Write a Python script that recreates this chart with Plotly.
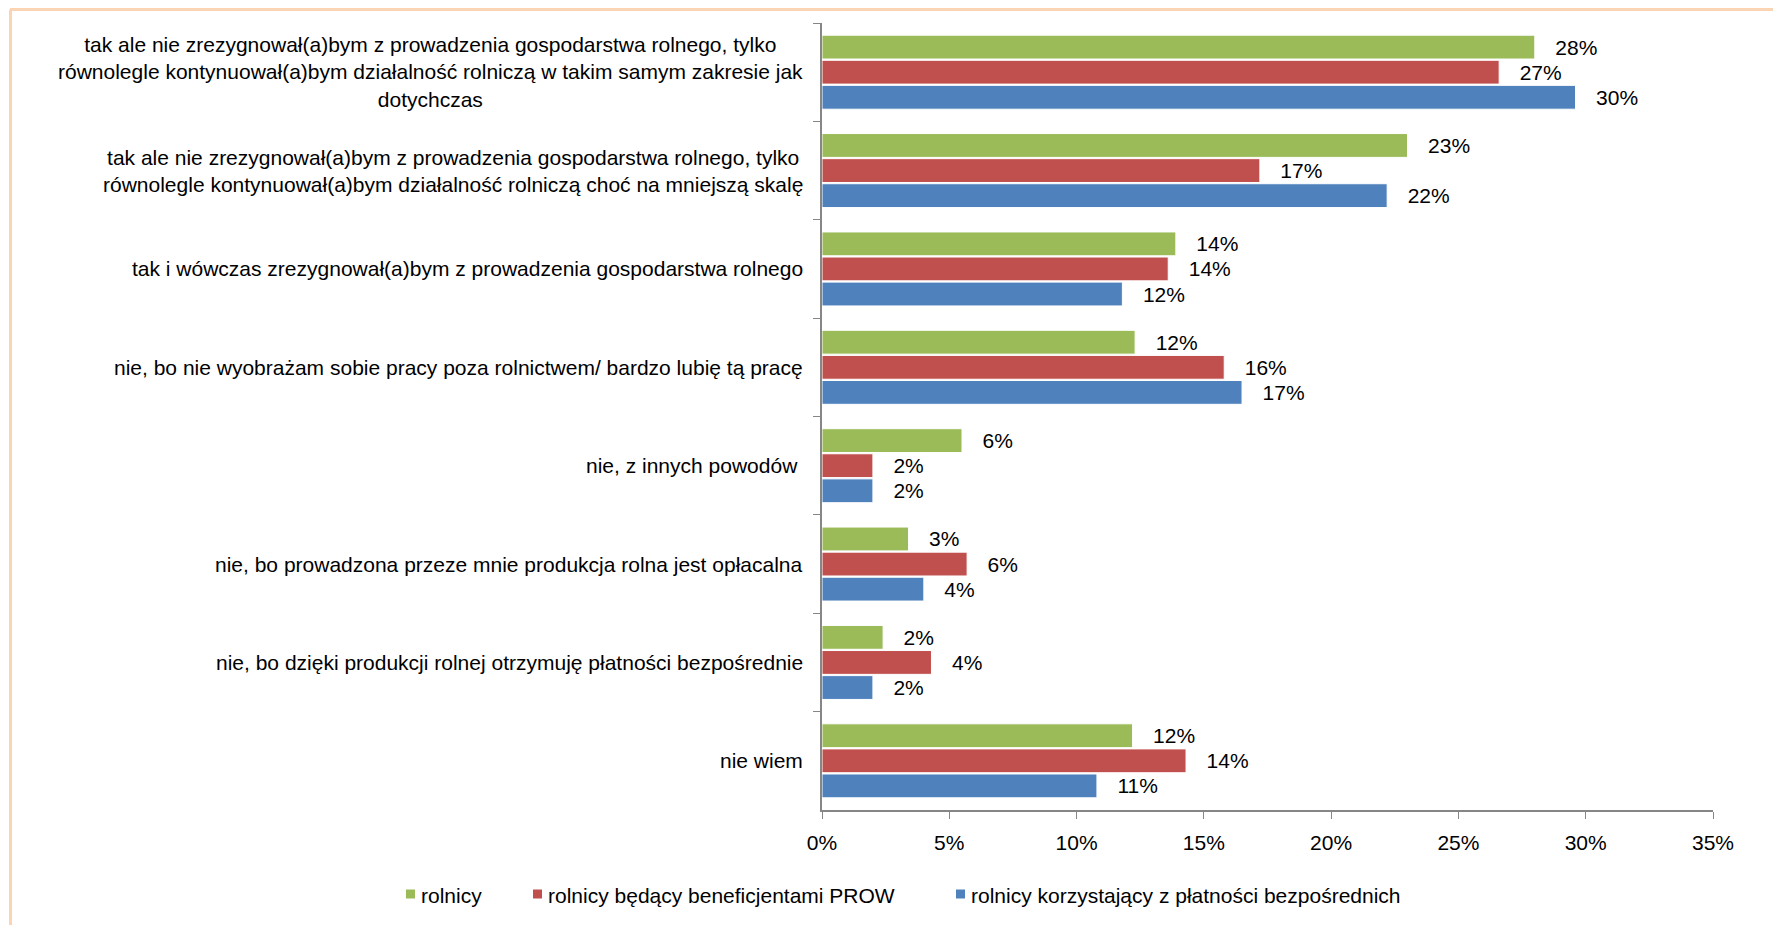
import plotly.graph_objects as go

categories = [
    "tak ale nie zrezygnował(a)bym z prowadzenia gospodarstwa rolnego, tylko<br>równolegle kontynuował(a)bym działalność rolniczą w takim samym zakresie jak<br>dotychczas",
    "tak ale nie zrezygnował(a)bym z prowadzenia gospodarstwa rolnego, tylko<br>równolegle kontynuował(a)bym działalność rolniczą choć na mniejszą skalę",
    "tak i wówczas zrezygnował(a)bym z prowadzenia gospodarstwa rolnego",
    "nie, bo nie wyobrażam sobie pracy poza rolnictwem/ bardzo lubię tą pracę",
    "nie, z innych powodów ",
    "nie, bo prowadzona przeze mnie produkcja rolna jest opłacalna",
    "nie, bo dzięki produkcji rolnej otrzymuję płatności bezpośrednie",
    "nie wiem",
]

series_names = [
    "rolnicy",
    "rolnicy będący beneficjentami PROW",
    "rolnicy korzystający z płatności bezpośrednich",
]

rolnicy = [0.280, 0.230, 0.139, 0.123, 0.055, 0.034, 0.024, 0.122]
rolnicy_prow = [0.266, 0.172, 0.136, 0.158, 0.020, 0.057, 0.043, 0.143]
rolnicy_pb = [0.296, 0.222, 0.118, 0.165, 0.020, 0.040, 0.020, 0.108]

colors = ["#9BBB59", "#C0504D", "#4F81BD"]
x_ticks = [0, 0.05, 0.10, 0.15, 0.20, 0.25, 0.30, 0.35]

FONT = "Liberation Sans, Arial, sans-serif"
FS = 21
# page body has an 8px margin, so the figure is placed at (8, 8)
OFF = 8
W, H = 1781 - OFF, 925 - OFF
L, R, T, B = 822 - OFF, 68, 23 - OFF, 115
pw = W - L - R
ph = H - T - B


def px(xp):
    """page x pixel -> paper x"""
    return (xp - OFF - L) / pw


def py(yp):
    """page y pixel -> paper y"""
    return (H - B - (yp - OFF)) / ph


fig = go.Figure()
for name, vals, col in zip(series_names, [rolnicy, rolnicy_prow, rolnicy_pb], colors):
    fig.add_trace(go.Bar(
        y=categories, x=vals, name=name, orientation="h",
        marker=dict(color=col, line=dict(color="white", width=1)),
        texttemplate="\u00a0\u00a0\u00a0%{x:.0%}", textposition="outside",
        constraintext="none", cliponaxis=False,
        textfont=dict(family=FONT, size=FS, color="black"),
    ))

# category labels as centered multi-line annotations
for c in categories:
    fig.add_annotation(
        x=0, xref="paper", y=c, yref="y", text=c, showarrow=False,
        xanchor="right", xshift=-17, align="center",
        font=dict(family=FONT, size=FS, color="black"),
    )

# legend drawn manually (single row, as in the reference)
legend_square_left = [406, 533, 956]
LEG_Y = 895
SQ = 9
for name, col, x0 in zip(series_names, colors, legend_square_left):
    fig.add_shape(type="rect", xref="paper", yref="paper",
                  x0=px(x0), x1=px(x0 + SQ), y0=py(LEG_Y - SQ / 2 - 1), y1=py(LEG_Y + SQ / 2 - 1),
                  fillcolor=col, line=dict(width=0))
    fig.add_annotation(x=px(x0 + SQ + 4), y=py(LEG_Y), xref="paper", yref="paper",
                       text=name, showarrow=False, xanchor="left", yanchor="middle",
                       font=dict(family=FONT, size=FS, color="black"))

# decorative orange frame (top and left)
fig.add_shape(type="line", xref="paper", yref="paper",
              x0=px(10), x1=px(1781), y0=py(9.5), y1=py(9.5),
              line=dict(color="#FBD4B4", width=3))
fig.add_shape(type="line", xref="paper", yref="paper",
              x0=px(10.5), x1=px(10.5), y0=py(9.5), y1=py(925),
              line=dict(color="#FBD4B4", width=3))

fig.update_layout(
    width=W, height=H,
    margin=dict(l=L, r=R, t=T, b=B),
    paper_bgcolor="white", plot_bgcolor="white",
    barmode="group", bargap=0.235, bargroupgap=0.05,
    font=dict(family=FONT, size=FS, color="black"),
    showlegend=False,
    xaxis=dict(range=[0, 0.35], tickvals=x_ticks, tickformat=".0%",
               showgrid=False, zeroline=False, showline=True,
               linecolor="#868686", linewidth=1.5, ticks="outside",
               ticklen=7, tickcolor="#868686",
               tickfont=dict(family=FONT, size=FS), ticklabelstandoff=6),
    yaxis=dict(type="category", autorange="reversed", showticklabels=False,
               showgrid=False, zeroline=False, showline=True,
               linecolor="#868686", linewidth=1.5, ticks="outside",
               tickson="boundaries", ticklen=7, tickcolor="#868686"),
)

fig.write_html("out.html")
